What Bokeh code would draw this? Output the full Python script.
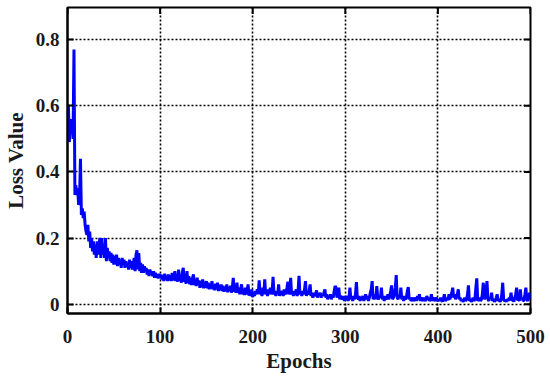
import math
from bokeh.plotting import figure
from bokeh.models import FixedTicker, Range1d
from bokeh.embed import file_html
from bokeh.resources import INLINE

x_ticks = [0, 100, 200, 300, 400, 500]
y_ticks = [0, 0.2, 0.4, 0.6, 0.8]
y_tick_labels = ["0", "0.2", "0.4", "0.6", "0.8"]
x_lim = (0, 500)
y_lim = (-0.028, 0.897)

loss_1_100 = [
    0.60, 0.49, 0.56, 0.52, 0.55, 0.50, 0.77, 0.33, 0.36, 0.33,
    0.35, 0.30, 0.32, 0.44, 0.27, 0.29, 0.26, 0.28, 0.24, 0.22,
    0.21, 0.24, 0.19, 0.22, 0.17, 0.20, 0.16, 0.19, 0.15, 0.18,
    0.14, 0.19, 0.15, 0.18, 0.20, 0.14, 0.20, 0.15, 0.18, 0.14,
    0.20, 0.13, 0.17, 0.14, 0.16, 0.13, 0.155, 0.125, 0.15, 0.12,
    0.145, 0.12, 0.15, 0.115, 0.14, 0.12, 0.135, 0.11, 0.14, 0.12,
    0.135, 0.11, 0.13, 0.115, 0.125, 0.105, 0.135, 0.11, 0.13, 0.105,
    0.12, 0.14, 0.10, 0.15, 0.163, 0.105, 0.155, 0.10, 0.125, 0.095,
    0.12, 0.095, 0.115, 0.10, 0.11, 0.09, 0.105, 0.085, 0.105, 0.09,
    0.10, 0.085, 0.10, 0.08, 0.095, 0.08, 0.09, 0.078, 0.092, 0.08,
]
loss_101_200 = [
    0.09, 0.075, 0.088, 0.07, 0.092, 0.075, 0.085, 0.07, 0.09, 0.072,
    0.088, 0.07, 0.095, 0.072, 0.085, 0.10, 0.07, 0.09, 0.068, 0.105,
    0.07, 0.09, 0.065, 0.095, 0.11, 0.068, 0.088, 0.062, 0.10, 0.065,
    0.085, 0.06, 0.08, 0.058, 0.078, 0.09, 0.058, 0.075, 0.055, 0.08,
    0.058, 0.072, 0.05, 0.07, 0.052, 0.075, 0.048, 0.068, 0.05, 0.07,
    0.048, 0.065, 0.045, 0.062, 0.048, 0.07, 0.045, 0.06, 0.042, 0.062,
    0.045, 0.065, 0.04, 0.058, 0.042, 0.06, 0.04, 0.056, 0.038, 0.052,
    0.04, 0.06, 0.036, 0.052, 0.04, 0.056, 0.035, 0.05, 0.08, 0.038,
    0.05, 0.035, 0.065, 0.034, 0.05, 0.03, 0.046, 0.06, 0.03, 0.045,
    0.028, 0.05, 0.03, 0.042, 0.06, 0.026, 0.04, 0.025, 0.045, 0.022,
]
loss_201_300 = [
    0.035, 0.025, 0.04, 0.03, 0.045, 0.03, 0.072, 0.03, 0.04, 0.025,
    0.05, 0.03, 0.075, 0.03, 0.04, 0.025, 0.045, 0.03, 0.05, 0.03,
    0.04, 0.083, 0.03, 0.04, 0.025, 0.035, 0.03, 0.06, 0.025, 0.035,
    0.03, 0.04, 0.025, 0.045, 0.03, 0.035, 0.05, 0.068, 0.03, 0.04,
    0.08, 0.03, 0.035, 0.025, 0.04, 0.03, 0.045, 0.025, 0.04, 0.086,
    0.03, 0.035, 0.025, 0.04, 0.03, 0.045, 0.07, 0.025, 0.035, 0.03,
    0.04, 0.06, 0.025, 0.03, 0.02, 0.035, 0.025, 0.03, 0.042, 0.02,
    0.03, 0.025, 0.035, 0.02, 0.03, 0.025, 0.035, 0.045, 0.02, 0.03,
    0.015, 0.025, 0.02, 0.03, 0.015, 0.025, 0.02, 0.04, 0.055, 0.05,
    0.02, 0.03, 0.05, 0.015, 0.025, 0.02, 0.015, 0.025, 0.01, 0.02,
]
loss_301_400 = [
    0.015, 0.025, 0.01, 0.02, 0.05, 0.015, 0.02, 0.01, 0.025, 0.015,
    0.03, 0.067, 0.02, 0.015, 0.025, 0.01, 0.02, 0.015, 0.025, 0.01,
    0.02, 0.03, 0.015, 0.025, 0.01, 0.02, 0.035, 0.045, 0.07, 0.015,
    0.02, 0.03, 0.015, 0.055, 0.02, 0.015, 0.025, 0.02, 0.05, 0.015,
    0.02, 0.01, 0.025, 0.015, 0.02, 0.03, 0.015, 0.025, 0.04, 0.057,
    0.015, 0.02, 0.03, 0.05, 0.088, 0.02, 0.015, 0.025, 0.02, 0.05,
    0.015, 0.02, 0.01, 0.025, 0.015, 0.02, 0.04, 0.052, 0.015, 0.02,
    0.01, 0.015, 0.02, 0.01, 0.015, 0.02, 0.01, 0.025, 0.015, 0.03,
    0.01, 0.02, 0.015, 0.01, 0.02, 0.015, 0.01, 0.025, 0.015, 0.02,
    0.01, 0.015, 0.03, 0.01, 0.02, 0.015, 0.01, 0.02, 0.015, 0.01,
]
loss_401_500 = [
    0.015, 0.01, 0.02, 0.012, 0.008, 0.018, 0.03, 0.01, 0.015, 0.02,
    0.012, 0.03, 0.015, 0.025, 0.035, 0.05, 0.02, 0.03, 0.015, 0.025,
    0.03, 0.045, 0.015, 0.02, 0.01, 0.015, 0.008, 0.012, 0.02, 0.01,
    0.015, 0.03, 0.057, 0.01, 0.015, 0.008, 0.012, 0.02, 0.01, 0.015,
    0.05, 0.078, 0.01, 0.015, 0.02, 0.01, 0.015, 0.03, 0.065, 0.015,
    0.02, 0.04, 0.07, 0.015, 0.01, 0.02, 0.015, 0.035, 0.01, 0.015,
    0.008, 0.012, 0.02, 0.03, 0.01, 0.015, 0.008, 0.012, 0.03, 0.065,
    0.015, 0.01, 0.012, 0.008, 0.015, 0.01, 0.02, 0.012, 0.035, 0.01,
    0.015, 0.008, 0.02, 0.03, 0.05, 0.012, 0.015, 0.01, 0.045, 0.015,
    0.02, 0.01, 0.012, 0.03, 0.05, 0.015, 0.01, 0.02, 0.035, 0.015,
]

loss = loss_1_100 + loss_101_200 + loss_201_300 + loss_301_400 + loss_401_500
epochs = list(range(1, len(loss) + 1))

FONT = "Liberation Serif"

p = figure(width=550, height=379, output_backend="svg",
           toolbar_location=None,
           x_range=Range1d(*x_lim), y_range=Range1d(*y_lim),
           min_border_left=66, min_border_right=20, min_border_top=7,
           min_border_bottom=66)
p.background_fill_color = "white"
p.border_fill_color = "white"
p.outline_line_color = "black"
p.outline_line_width = 2

for g in (p.xgrid[0], p.ygrid[0]):
    g.grid_line_color = "black"
    g.grid_line_width = 1.6
    g.grid_line_dash = "2 2"

p.line(epochs, loss, line_color="#0000FF", line_width=3)

# inward ticks on the top and right frame edges (half of each dash is clipped by the frame)
p.scatter(x_ticks, [y_lim[1]] * len(x_ticks), marker="dash", angle=math.pi / 2,
          size=13, line_color="black", line_width=2)
p.scatter([x_lim[1]] * len(y_ticks), y_ticks, marker="dash",
          size=13, line_color="black", line_width=2)

p.xaxis.ticker = FixedTicker(ticks=x_ticks)
p.yaxis.ticker = FixedTicker(ticks=y_ticks)
p.yaxis.major_label_overrides = {t: l for t, l in zip(y_ticks, y_tick_labels)}
p.xaxis.axis_label = "Epochs"
p.yaxis.axis_label = "Loss Value"

for ax in (p.xaxis[0], p.yaxis[0]):
    ax.axis_line_width = 2
    ax.axis_line_color = "black"
    ax.major_tick_in = 6
    ax.major_tick_out = 0
    ax.major_tick_line_width = 2
    ax.major_tick_line_color = "black"
    ax.minor_tick_line_color = None
    ax.major_label_text_font = FONT
    ax.major_label_text_font_style = "bold"
    ax.major_label_text_font_size = "19px"
    ax.major_label_text_color = "#1a1a1a"
    ax.axis_label_text_font = FONT
    ax.axis_label_text_font_style = "bold"
    ax.axis_label_text_font_size = "21px"
    ax.axis_label_text_color = "#1a1a1a"

p.xaxis.major_label_standoff = 16
p.xaxis.axis_label_standoff = 3
p.yaxis.major_label_standoff = 8
p.yaxis.axis_label_standoff = 5

open("out.html", "w").write(file_html(p, INLINE))
